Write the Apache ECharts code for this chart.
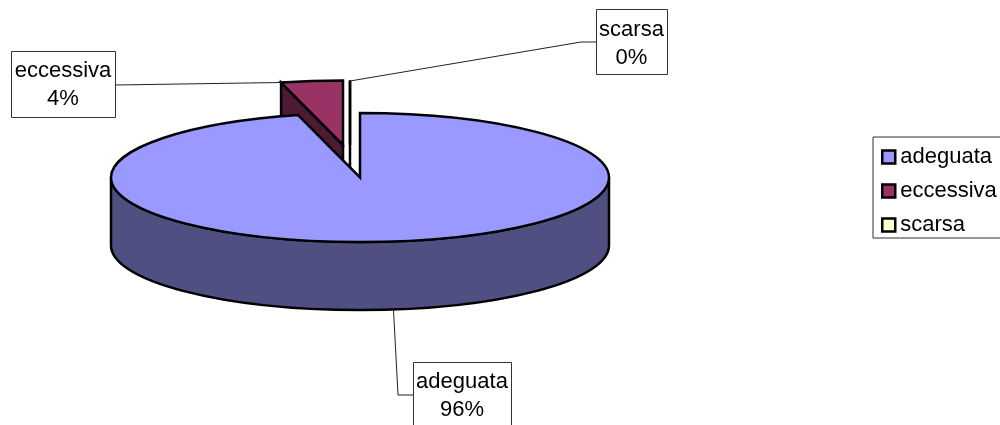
<!DOCTYPE html>
<html>
<head>
<meta charset="utf-8">
<style>html,body{margin:0;padding:0;background:#fff;overflow:hidden}#chart{width:1000px;height:425px}</style>
<script src="https://cdn.jsdelivr.net/npm/echarts@6/dist/echarts.min.js"></script>
</head>
<body>
<div id="chart"></div>
<script>
// Categories and their shares in percent
const categories = ['adeguata', 'eccessiva', 'scarsa'];
const shares = [96, 4, 0];

// Fill colours for the top face and the darker shaded walls
const topColors = ['#9999FF', '#993366', '#FFFFCC'];
const wallColors = ['#4F4F82', '#4D1A33', '#808066'];

// Disc geometry
const disc = { rx: 249, ry: 64.5, depth: 68 };
const centres = [[360, 177.5], [343, 145], [350, 145]];

// Callout boxes: rectangle, then the leader line from box to slice
const callouts = [
  { box: [413, 362, 98, 70], textX: 462, textY: 396, leader: [[413, 395], [398, 395], [393.5, 310]] },
  { box: [11, 51, 104, 66], textX: 63, textY: 85, leader: [[115, 85], [281, 82.5]] },
  { box: [596, 9, 71, 65], textX: 631.5, textY: 44, leader: [[596, 42], [581, 42], [350, 81]] }
];

const total = shares.reduce((a, b) => a + b, 0);
const startOf = i => shares.slice(0, i).reduce((a, b) => a + b, 0) / total * Math.PI * 2;

// Point on the elliptical rim; angles run clockwise from twelve o'clock
function rim(c, a) {
  return [c[0] + disc.rx * Math.sin(a), c[1] - disc.ry * Math.cos(a)];
}

function arcTo(p, sweep, large) {
  return `A${disc.rx} ${disc.ry} 0 ${large ? 1 : 0} ${sweep} ${p[0]} ${p[1]}`;
}

function slicePaths(i) {
  const c = centres[i];
  const a0 = startOf(i);
  const a1 = startOf(i + 1);
  const p0 = rim(c, a0);
  const p1 = rim(c, a1);
  const large = a1 - a0 > Math.PI;
  const top = `M${c[0]} ${c[1]}L${p0[0]} ${p0[1]}` +
    (a1 > a0 ? arcTo(p1, 1, large) : '') + 'Z';
  let wall;
  if (large) {
    // Outer wall of the big slice: the front half of the rim, extruded downwards
    const l = [c[0] - disc.rx, c[1]];
    const r = [c[0] + disc.rx, c[1]];
    wall = `M${l[0]} ${l[1]}L${l[0]} ${l[1] + disc.depth}` +
      arcTo([r[0], r[1] + disc.depth], 0, false) +
      `L${r[0]} ${r[1]}` + arcTo(l, 1, false) + 'Z';
  } else {
    // Cut face of a pulled-out slice, seen through the notch
    wall = `M${c[0]} ${c[1]}L${p0[0]} ${p0[1]}L${p0[0]} ${p0[1] + disc.depth}` +
      `L${c[0]} ${c[1] + disc.depth}Z`;
  }
  return { top, wall };
}

function renderSlice(i) {
  return function () {
    const paths = slicePaths(i);
    const edge = { stroke: '#000', lineWidth: 2.5, lineJoin: 'miter' };
    const call = callouts[i];
    const b = call.box;
    return {
      type: 'group',
      children: [
        { type: 'path', shape: { pathData: paths.wall }, style: { fill: wallColors[i], ...edge } },
        { type: 'path', shape: { pathData: paths.top }, style: { fill: topColors[i], ...edge } },
        { type: 'polyline', shape: { points: call.leader }, style: { fill: null, stroke: '#222', lineWidth: 1 } },
        { type: 'rect', shape: { x: b[0] + 0.5, y: b[1] + 0.5, width: b[2], height: b[3] },
          style: { fill: '#fff', stroke: '#333', lineWidth: 1 } },
        { type: 'text', style: {
            x: call.textX, y: call.textY,
            text: `${categories[i]}\n${shares[i]}%`,
            fill: '#000', font: '22px "Liberation Sans"', lineHeight: 28,
            align: 'center', verticalAlign: 'middle'
        } }
      ]
    };
  };
}

const chart = echarts.init(document.getElementById('chart'), null, { renderer: 'canvas' });
chart.setOption({
  animation: false,
  backgroundColor: '#fff',
  legend: {
    data: categories,
    orient: 'vertical',
    left: 873,
    top: 137,
    padding: [9, 8, 2, 8],
    itemWidth: 13,
    itemHeight: 13,
    itemGap: 12,
    icon: 'rect',
    selectedMode: false,
    borderColor: '#333',
    borderWidth: 1,
    backgroundColor: '#fff',
    itemStyle: { borderColor: '#000', borderWidth: 2.5 },
    textStyle: { fontFamily: 'Liberation Sans', fontSize: 22, color: '#000', lineHeight: 22 }
  },
  // Back slices first so the large slice covers their lower walls
  series: categories.map((name, i) => ({
    type: 'custom',
    name,
    coordinateSystem: 'none',
    z: i === 0 ? 3 : 2,
    itemStyle: { color: topColors[i] },
    data: [shares[i]],
    renderItem: renderSlice(i)
  }))
});
</script>
</body>
</html>
